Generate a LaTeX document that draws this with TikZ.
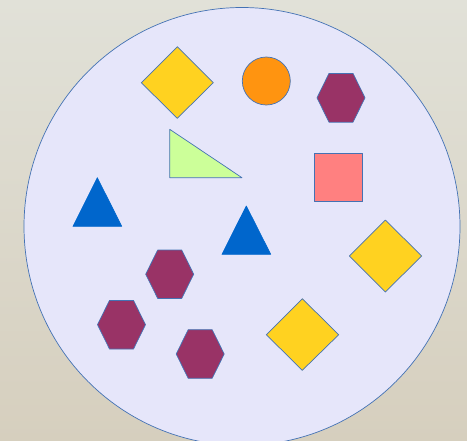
\documentclass[tikz,border=0pt]{standalone}
\usetikzlibrary{shapes.geometric}

\definecolor{bgtop}{RGB}{225,225,216}
\definecolor{bgbot}{RGB}{214,207,190}
\definecolor{setfill}{RGB}{230,230,250}
\definecolor{edgeblue}{RGB}{68,114,180}
\definecolor{gold}{RGB}{255,210,32}
\definecolor{tangerine}{RGB}{255,148,16}
\definecolor{plum}{RGB}{153,51,102}
\definecolor{salmon}{RGB}{255,128,128}
\definecolor{lime}{RGB}{204,255,153}
\definecolor{royal}{RGB}{0,102,204}

\tikzset{
  piece/.style={draw=edgeblue, line width=0.6pt, line join=round},
  hexa/.style={piece, fill=plum},
  rhomb/.style={piece, fill=gold},
  tri/.style={piece, draw=royal, fill=royal}
}

\begin{document}
\begin{tikzpicture}[x=0.03cm, y=-0.03cm]
\useasboundingbox (0,0) rectangle (467,441);
\shade[top color=bgtop, bottom color=bgbot] (0,0) rectangle (467,441);
\clip (0,0) rectangle (467,441);

% the set
\draw[piece, fill=setfill] (242,226.5) ellipse [x radius=218, y radius=219];

% diamonds
\draw[rhomb] (177.3,46.7) -- (213.3,82.7) -- (177.3,118.3) -- (141.3,82.7) -- cycle;
\draw[rhomb] (385.3,220) -- (421.7,256) -- (385.3,292) -- (349.3,256) -- cycle;
\draw[rhomb] (302.3,298.7) -- (338.7,334.7) -- (302.3,370.3) -- (266.3,334.7) -- cycle;

% circle and square
\draw[piece, fill=tangerine] (266.3,81) circle [radius=24];
\draw[piece, fill=salmon] (314.3,153.3) rectangle (362.7,201.7);

% triangles
\draw[piece, fill=lime] (169.7,129.3) -- (169.7,177.7) -- (242,177.7) -- cycle;
\draw[tri] (97.3,177.7) -- (121.7,226.3) -- (73,226.3) -- cycle;
\draw[tri] (246.3,206) -- (270.7,254.3) -- (222,254.3) -- cycle;

% hexagons
\draw[hexa, shift={(341,97.8)}] (-24,0) -- (-12,-24.4) -- (12,-24.4) -- (24,0) -- (12,24.4) -- (-12,24.4) -- cycle;
\draw[hexa, shift={(169.7,274.2)}] (-24,0) -- (-12,-24.2) -- (12,-24.2) -- (24,0) -- (12,24.2) -- (-12,24.2) -- cycle;
\draw[hexa, shift={(121.5,324.7)}] (-24,0) -- (-12,-24.3) -- (12,-24.3) -- (24,0) -- (12,24.3) -- (-12,24.3) -- cycle;
\draw[hexa, shift={(200.2,354)}] (-24,0) -- (-12,-24.3) -- (12,-24.3) -- (24,0) -- (12,24.3) -- (-12,24.3) -- cycle;
\end{tikzpicture}
\end{document}
